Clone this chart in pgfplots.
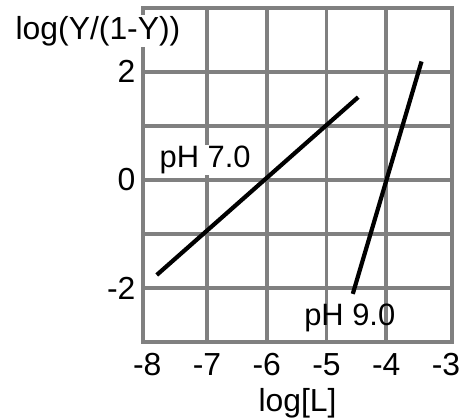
\documentclass[border=0pt]{standalone}
\usepackage{pgfplots}
\pgfplotsset{compat=1.18}
\usepackage{fontspec}
\setmainfont{Liberation Sans}
\definecolor{gridgray}{RGB}{128,128,128}

\begin{document}
\begin{tikzpicture}
\begin{axis}[
    scale only axis,
    width=309bp, height=334bp,
    xmin=-8.07, xmax=-2.9,
    ymin=-3, ymax=3.18,
    xtick={-8,-7,-6,-5,-4,-3},
    ytick={-2,0,2},
    major tick length=0pt,
    extra x ticks={-7,-6,-5,-4},
    extra x tick labels={},
    extra x tick style={grid=major},
    extra y ticks={-2,-1,0,1,2},
    extra y tick labels={},
    extra y tick style={grid=major},
    grid style={gridgray, line width=3.6bp},
    axis line style={gridgray, line width=3.6bp},
    ticklabel style={font=\fontsize{32}{34}\selectfont},
    /pgf/number format/assume math mode=true,
    xticklabel style={yshift=-8bp},
    yticklabel style={xshift=-4bp},
    xlabel={log[L]},
    xlabel style={font=\fontsize{32}{34}\selectfont, yshift=-5bp},
    clip=false,
]
\addplot[black, line width=4.2bp] coordinates {(-7.84,-1.76) (-4.47,1.53)};
\addplot[black, line width=4.2bp] coordinates {(-4.56,-2.11) (-3.41,2.19)};
\node[font=\fontsize{31}{34}\selectfont, fill=white, inner sep=1bp] at (axis cs:-7.03,0.37) {pH 7.0};
\node[font=\fontsize{31}{34}\selectfont, inner sep=1bp] at (axis cs:-4.61,-2.56) {pH 9.0};
\node[font=\fontsize{32}{34}\selectfont, fill=white, inner sep=1bp, xshift=-45bp, yshift=-23bp] at (rel axis cs:0,1) {log(Y/(1-Y))};
\coordinate (bl) at (rel axis cs:0,0);
\end{axis}
\pgfresetboundingbox
\useasboundingbox (bl) ++(-143bp,-78bp) rectangle ++(469bp,420bp);
\end{tikzpicture}
\end{document}
